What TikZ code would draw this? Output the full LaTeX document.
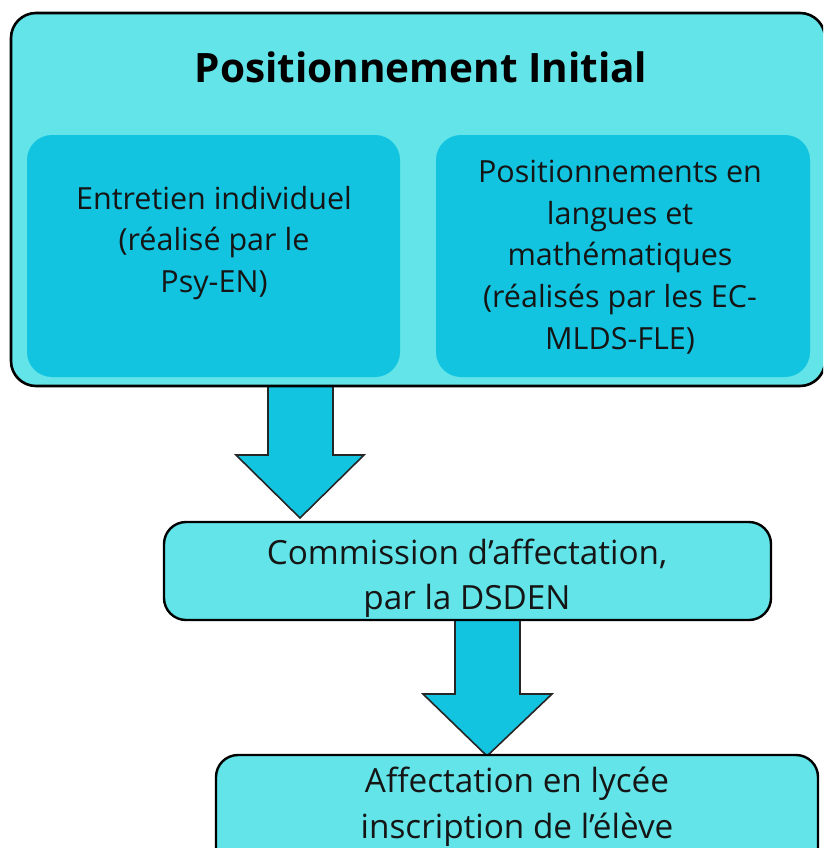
\documentclass[tikz,border=0pt]{standalone}
\usepackage{fontspec}
\setmainfont{Open Sans}
\definecolor{light}{HTML}{62E4E8}
\definecolor{deep}{HTML}{12C4E0}
\definecolor{ink}{HTML}{151515}
\begin{document}
\begin{tikzpicture}[x=1pt,y=-1pt,
  panel/.style={rectangle,rounded corners=25pt,fill=light,draw=black,line width=2.6pt,inner sep=0pt},
  subpanel/.style={rectangle,rounded corners=25pt,fill=deep,inner sep=0pt},
  stepbox/.style={rectangle,rounded corners=22pt,fill=light,draw=black,line width=2.4pt,inner sep=0pt},
  label/.style={align=center,text=ink,font=\fontsize{30.5}{41.7}\selectfont,inner sep=0pt},
  steplabel/.style={align=center,text=ink,font=\fontsize{33.3}{45.5}\selectfont,inner sep=0pt},
  blockarrow/.style={fill=deep,draw=black!85,line width=1.6pt,line join=miter}]
\useasboundingbox (0,0) rectangle (823,848);
\clip (0,0) rectangle (823,848);
% arrows (behind boxes)
\draw[blockarrow] (268,386) -- (333,386) -- (333,455) -- (364,455) -- (300,518) -- (236,455) -- (268,455) -- cycle;
\draw[blockarrow] (455,620) -- (520,620) -- (520,694) -- (552,694) -- (487,756) -- (423,694) -- (455,694) -- cycle;
% outer panel
\node[panel,minimum width=814pt,minimum height=373pt] (outer) at (418,199.5) {};
\node[subpanel,minimum width=373pt,minimum height=242pt] (left) at (213.5,256) {};
\node[subpanel,minimum width=374pt,minimum height=242pt] (right) at (623,256) {};
\node[text=black,font=\fontsize{40.5}{48}\selectfont\bfseries,inner sep=0pt] (title) at (421,67) {Positionnement Initial};
\node[label] (lefttext) at (214,243) {Entretien individuel\\(réalisé par le\\Psy-EN)};
\node[label] (righttext) at (620,257) {Positionnements en\\langues et\\mathématiques\\(réalisés par les EC-\\MLDS-FLE)};
% step boxes
\node[stepbox,minimum width=607pt,minimum height=98pt] (commission) at (467.5,571) {};
\node[steplabel] at (467,578.5) {Commission d’affectation,\\par la DSDEN};
\node[stepbox,minimum width=602pt,minimum height=125pt] (affect) at (517,817.5) {};
\node[steplabel] at (517,806.5) {Affectation en lycée\\inscription de l’élève};
\end{tikzpicture}
\end{document}
